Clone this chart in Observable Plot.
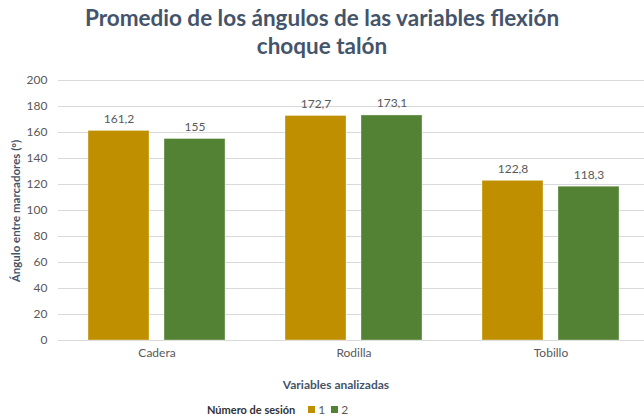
<!DOCTYPE html>
<html>
<head>
<meta charset="utf-8">
<script src="https://cdn.jsdelivr.net/npm/d3@7"></script>
<script src="https://cdn.jsdelivr.net/npm/@observablehq/plot@0.6"></script>
<style>
  body { margin: 0; background: #fff; }
  #wrap { position: relative; width: 644px; height: 417px; font-family: Lato, "Open Sans", sans-serif; overflow: hidden; }
  #title { position: absolute; left: 0; top: 4px; width: 644px; text-align: center; font-size: 22.5px; font-weight: bold; line-height: 28px; color: #44546A; }
  #ylab { position: absolute; left: 15px; top: 211px; transform: translate(-50%, -50%) rotate(-90deg); white-space: nowrap; font-size: 11.5px; font-weight: bold; color: #44546A; }
  #xlab { position: absolute; left: 336px; top: 384px; transform: translate(-50%, -50%); white-space: nowrap; font-size: 12px; font-weight: bold; color: #44546A; }
  #legend { position: absolute; left: 207px; top: 402px; white-space: nowrap; font-size: 11px; color: #595959; display: flex; align-items: center; }
  #legend .lt { font-weight: bold; color: #333; margin-right: 13px; }
  #legend .sw { display: inline-block; width: 7px; height: 7px; margin-right: 3px; }
  #legend .it { font-size: 12px; margin-right: 6px; }
  #plot { position: absolute; left: 0; top: 0; }
</style>
</head>
<body>
<div id="wrap">
  <div id="plot"></div>
  <div id="title">Promedio de los ángulos de las variables flexión<br>choque talón</div>
  <div id="ylab">Ángulo entre marcadores (°)</div>
  <div id="xlab">Variables analizadas</div>
  <div id="legend"></div>
</div>
<script>
const categories = ["Cadera", "Rodilla", "Tobillo"];
const sessions = ["1", "2"];
const session1 = [161.2, 172.7, 122.8];
const session2 = [155, 173.1, 118.3];
const colors = ["#BF8F00", "#548235"];
const yTicks = [0, 20, 40, 60, 80, 100, 120, 140, 160, 180, 200];

const data = [];
categories.forEach((c, i) => {
  data.push({cat: c, ses: sessions[0], val: session1[i]});
  data.push({cat: c, ses: sessions[1], val: session2[i]});
});
const fmt = v => String(v).replace(".", ",");

const chart = Plot.plot({
  width: 644,
  height: 417,
  marginTop: 80,
  marginBottom: 77,
  marginLeft: 57,
  marginRight: 0,
  style: {fontFamily: "Lato, 'Open Sans', sans-serif", fontSize: "12px", color: "#595959", background: "transparent"},
  fx: {domain: categories, range: [57, 650], padding: 0, label: null, axis: "bottom", tickSize: 0, tickPadding: 8},
  x: {domain: sessions, paddingInner: 0.2, paddingOuter: 0.396, axis: null},
  y: {domain: [0, 200], ticks: yTicks, tickSize: 0, tickPadding: 11, label: null},
  color: {domain: sessions, range: colors},
  marks: [
    Plot.gridY(yTicks, {stroke: "#D9D9D9", strokeOpacity: 1, strokeWidth: 1}),
    Plot.barY(data, {fx: "cat", x: "ses", y: "val", fill: "ses", stroke: "#ffffff", strokeOpacity: 0.35, strokeWidth: 1}),
    Plot.text(data, {fx: "cat", x: "ses", y: "val", text: d => fmt(d.val), lineAnchor: "bottom", dy: -8, fill: "#595959", fontSize: 12})
  ]
});
document.getElementById("plot").appendChild(chart);

const leg = document.getElementById("legend");
leg.innerHTML = '<span class="lt">Número de sesión</span>' +
  sessions.map((s, i) => `<span class="sw" style="background:${colors[i]}"></span><span class="it">${s}</span>`).join("");
</script>
</body>
</html>
